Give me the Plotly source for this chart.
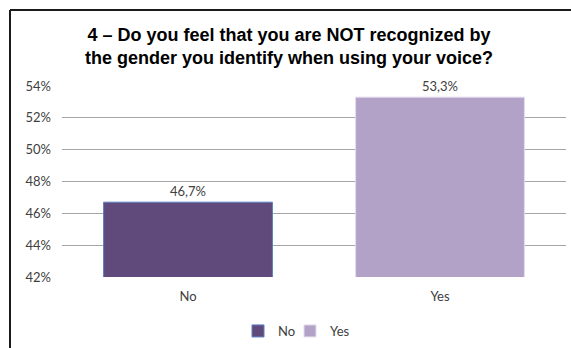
import plotly.graph_objects as go

categories = ["No", "Yes"]
values = [46.7, 53.3]
colors = ["#604A7B", "#B3A2C7"]
outline = ["#5B7FBF", "#E4DCEE"]
y_ticks = [42, 44, 46, 48, 50, 52, 54]
y_tick_labels = [f"{v}%" for v in y_ticks]

W, H = 571, 348
L, R, T, B = 62, 5, 86, 71
pw = W - L - R
ph = H - T - B

def px_x(px):
    return (px - L) / pw

def px_y(py):
    return (H - B - py) / ph

FONT = "Lato, Liberation Sans, sans-serif"
legend_names = ["legend", "legend2"]
legend_box_x = [238, 290]

fig = go.Figure()
for cat, val, col, oc, lg in zip(categories, values, colors, outline, legend_names):
    fig.add_trace(go.Bar(
        x=[cat], y=[val], name=cat, legend=lg,
        marker=dict(color=col, line=dict(color=oc, width=1)),
        width=0.67,
        texttemplate="%{y:.1f}%", textposition="outside",
        textfont=dict(family=FONT, size=13, color="#404040"),
        cliponaxis=False,
    ))

fig.add_shape(type="line", xref="paper", yref="paper",
              x0=px_x(10), y0=px_y(10), x1=px_x(571), y1=px_y(10),
              line=dict(color="#1a1a1a", width=2))
fig.add_shape(type="line", xref="paper", yref="paper",
              x0=px_x(10), y0=px_y(10), x1=px_x(10), y1=px_y(348),
              line=dict(color="#1a1a1a", width=2))

legend_common = dict(orientation="h", yanchor="middle", y=px_y(331), xanchor="left",
                     font=dict(family=FONT, size=13, color="#404040"),
                     itemwidth=30, bgcolor="rgba(0,0,0,0)")

fig.update_layout(
    width=W, height=H,
    margin=dict(l=L, r=R, t=T, b=B, autoexpand=False),
    paper_bgcolor="white", plot_bgcolor="white",
    separators=",.",
    barmode="overlay",
    title=dict(
        text="4 – Do you feel that you are NOT recognized by<br>the gender you identify when using your voice?",
        x=289 / W, xanchor="center", y=1 - 40.5 / H, yanchor="middle",
        font=dict(family="Liberation Sans, Arial, sans-serif", size=18, color="black", weight="bold"),
    ),
    yaxis=dict(range=[42, 54], tickvals=y_ticks, ticktext=y_tick_labels,
               showgrid=True, gridcolor="#A6A6A6", gridwidth=1,
               zeroline=False, showline=False, ticks="", automargin=False,
               ticklabelstandoff=10,
               tickfont=dict(family=FONT, size=13, color="#404040")),
    xaxis=dict(showgrid=False, showline=False, ticks="", automargin=False,
               ticklabelstandoff=10,
               tickfont=dict(family=FONT, size=13, color="#404040")),
    legend=dict(legend_common, x=px_x(legend_box_x[0])),
    legend2=dict(legend_common, x=px_x(legend_box_x[1])),
    showlegend=True,
)
fig.write_html("out.html", config={"displayModeBar": False},
               post_script="document.body.style.margin='0';")
